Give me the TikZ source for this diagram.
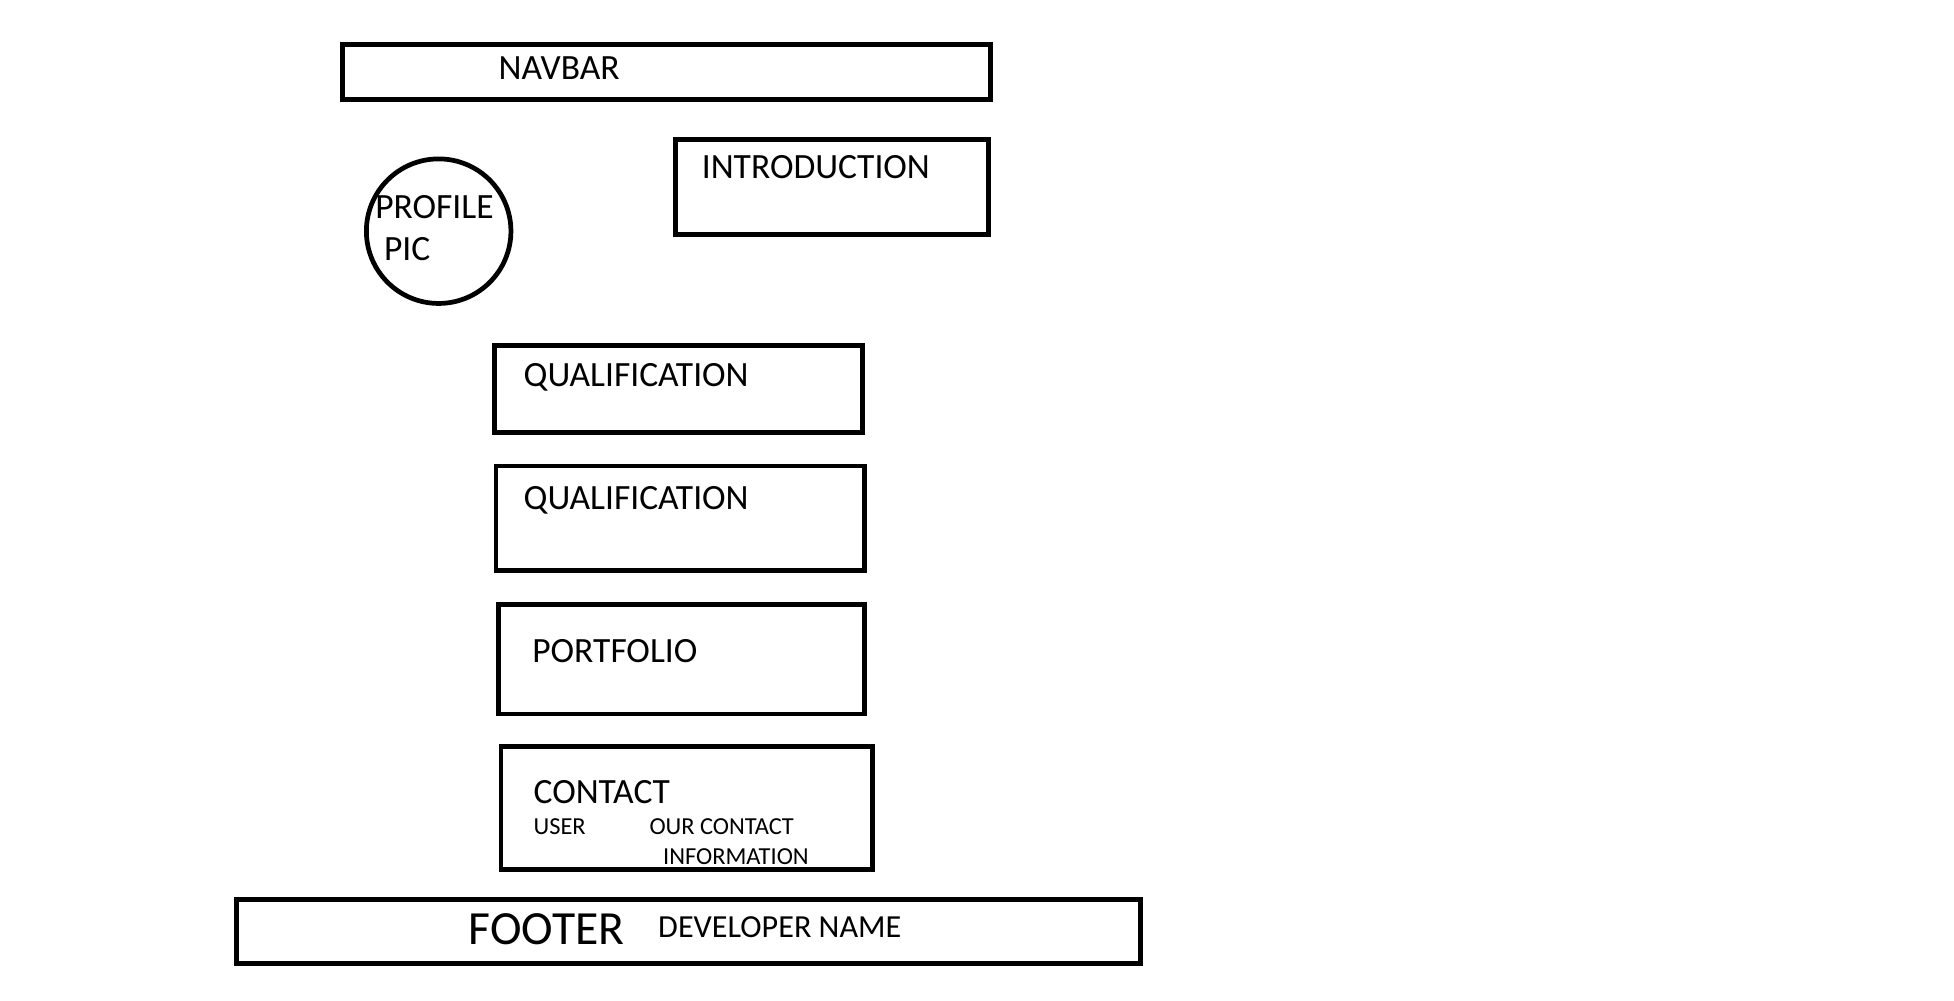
\documentclass[tikz,border=0pt]{standalone}
\usepackage{fontspec}
\setmainfont{Carlito}
\begin{document}
\begin{tikzpicture}[x=1pt,y=-1pt,
  box/.style={draw=black,line width=3.8pt,rectangle,inner sep=0pt},
  lbl/.style={anchor=base west,inner sep=0pt,font=\fontsize{28.5}{32}\selectfont},
  small/.style={anchor=base west,inner sep=0pt,font=\fontsize{19.6}{22}\selectfont}]
\useasboundingbox[fill=white] (0,0) rectangle (1568,802.5);
% boxes
\node[box,minimum width=520pt,minimum height=44pt] (navbar) at (535,58) {};
\node[box,circle,minimum size=116pt] (pic) at (352,185.5) {};
\node[box,minimum width=251pt,minimum height=76pt] (intro) at (667.5,150) {};
\node[box,minimum width=295pt,minimum height=70pt] (qual1) at (544.5,312) {};
\node[box,minimum width=296pt,minimum height=84pt] (qual2) at (546,416) {};
\node[box,minimum width=294pt,minimum height=88pt] (port) at (547,529) {};
\node[box,minimum width=298pt,minimum height=99pt] (contact) at (551,648.5) {};
\node[box,minimum width=725pt,minimum height=51pt] (footer) at (552.5,747.5) {};
% labels
\node[lbl] (tnav) at (400,64) {NAVBAR};
\node[lbl] (tprof) at (301,175) {PROFILE};
\node[lbl] (tpic) at (308,209) {PIC};
\node[lbl] (tintro) at (563,143) {INTRODUCTION};
\node[lbl] (tq1) at (420,310) {QUALIFICATION};
\node[lbl] (tq2) at (420,409) {QUALIFICATION};
\node[lbl] (tport) at (427,532) {PORTFOLIO};
\node[lbl] (tcont) at (428,645) {CONTACT};
\node[small] (tuser) at (428,670) {USER};
\node[small] (tour) at (521,670) {OUR CONTACT};
\node[small] (tinfo) at (532,694) {INFORMATION};
\node[anchor=base west,inner sep=0pt,font=\fontsize{38.2}{42}\selectfont] (tfoot) at (376,758) {FOOTER};
\node[anchor=base west,inner sep=0pt,font=\fontsize{25.8}{29}\selectfont] (tdev) at (528,752) {DEVELOPER NAME};
\end{tikzpicture}
\end{document}
